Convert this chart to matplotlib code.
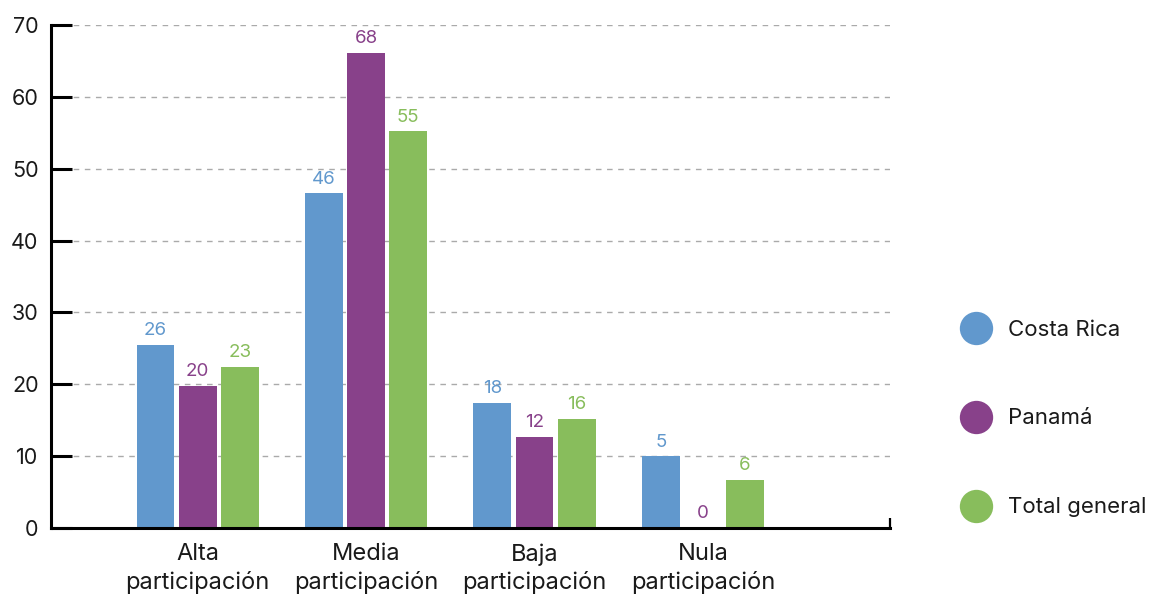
import matplotlib
matplotlib.use("Agg")
import matplotlib.pyplot as plt
from matplotlib.lines import Line2D
import numpy as np

plt.rcParams['font.family'] = ['Inter', 'DejaVu Sans']

categories = ["Alta\nparticipación", "Media\nparticipación", "Baja\nparticipación", "Nula\nparticipación"]
series_names = ["Costa Rica", "Panamá", "Total general"]
costa_rica = [25.5, 46.6, 17.4, 10.0]
panama = [19.8, 66.1, 12.7, 0.0]
total = [22.4, 55.2, 15.2, 6.7]
costa_rica_labels = ["26", "46", "18", "5"]
panama_labels = ["20", "68", "12", "0"]
total_labels = ["23", "55", "16", "6"]
y_ticks = [0, 10, 20, 30, 40, 50, 60, 70]

colors = ["#6198CD", "#88418A", "#88BD5C"]

fig = plt.figure(figsize=(11.54, 5.97), dpi=100)
ax = fig.add_axes([51/1154, 1-528/597, (890-51)/1154, (528-25)/597])

x = np.arange(len(categories))
width = 0.225
offsets = [-0.25, 0.0, 0.25]
all_vals = [costa_rica, panama, total]
all_labels = [costa_rica_labels, panama_labels, total_labels]

for vals, labs, off, col in zip(all_vals, all_labels, offsets, colors):
    bars = ax.bar(x + off, vals, width, color=col, zorder=3)
    for b, lab in zip(bars, labs):
        ax.annotate(lab, (b.get_x() + b.get_width()/2, b.get_height()),
                    xytext=(0, 4), textcoords="offset points",
                    ha="center", va="bottom", color=col, fontsize=13.5)

ax.set_xlim(-0.87, 4.11)
ax.set_ylim(0, 70)
ax.set_yticks(y_ticks)
ax.set_xticks(x)
ax.set_xticklabels(categories, fontsize=17, color="#1a1a1a", linespacing=1.3)
ax.tick_params(axis='x', length=0, pad=11)
ax.tick_params(axis='y', direction='in', length=15, width=2.2, labelsize=15.5, pad=9, labelcolor="#1a1a1a")
ax.set_xticks([4.11], minor=True)
ax.tick_params(axis='x', which='minor', direction='in', length=7, width=1.6)

ax.grid(axis='y', color='#aaaaaa', linestyle=(0, (4, 4)), linewidth=1.0, zorder=0)
ax.set_axisbelow(True)

for s in ['top', 'right']:
    ax.spines[s].set_visible(False)
for s in ['left', 'bottom']:
    ax.spines[s].set_linewidth(2.2)
    ax.spines[s].set_color('black')
    ax.spines[s].set_zorder(4)

handles = [Line2D([0], [0], marker='o', linestyle='none', markersize=24,
                  markerfacecolor=c, markeredgecolor='none') for c in colors]
fig.legend(handles, series_names, loc='center left',
           bbox_to_anchor=(959.5/1154, 1-418.5/597), frameon=False,
           fontsize=16, labelspacing=3.1, handlelength=1.5, handletextpad=0.7,
           borderaxespad=0, borderpad=0, labelcolor="#1a1a1a")

fig.savefig("out.png", dpi=100)
